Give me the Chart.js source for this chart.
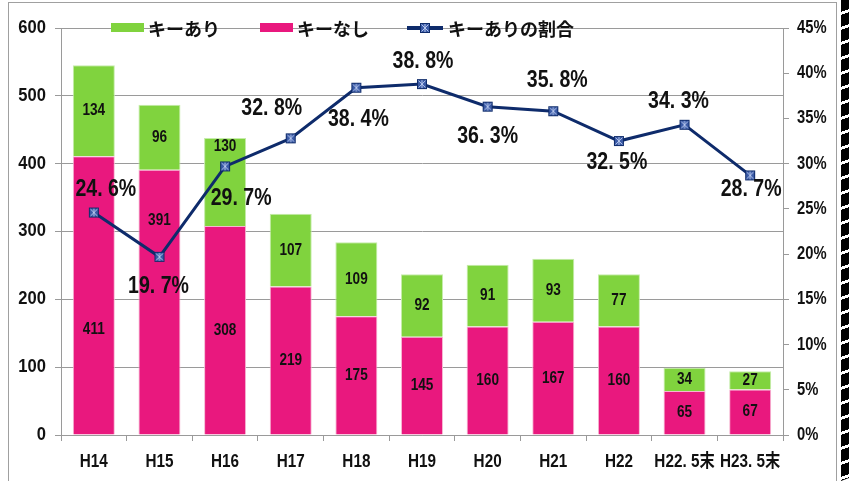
<!DOCTYPE html>
<html>
<head>
<meta charset="utf-8">
<script src="https://cdn.jsdelivr.net/npm/chart.js@4"></script>
<style>
  body { margin: 0; background: #fff; }
  #wrap { position: relative; width: 850px; height: 481px; overflow: hidden; }
  #frame { position: absolute; left: 8px; top: 2px; width: 829px; height: 490px;
           border: 1px solid #a0a0a0; box-sizing: border-box; }
  #dash { position: absolute; left: 841px; top: 0; width: 8px; height: 481px;
          background: repeating-linear-gradient(to bottom, #000 0 12px, #fff 12px 15px);
          transform: skewY(-20deg); transform-origin: left top; }
  #legend { position: absolute; left: 0; top: 0; font: bold 18px 'Noto Sans CJK JP', sans-serif; color: #111; }
  .item { position: absolute; top: 16px; height: 24px; line-height: 24px; white-space: nowrap; }
  .box { position: absolute; top: 7px; width: 33px; height: 9px; }
  .txt { position: absolute; top: 0; }
</style>
</head>
<body>
<div id="wrap">
  <canvas id="chart" width="850" height="481"></canvas>
  <div id="frame"></div>
  <div id="dash"></div>
  <div id="legend"></div>
</div>
<script>
/* data */
const categories = ['H14', 'H15', 'H16', 'H17', 'H18', 'H19', 'H20', 'H21', 'H22', 'H22. 5末', 'H23. 5末'];
const withKey    = [134, 96, 130, 107, 109, 92, 91, 93, 77, 34, 27];
const withoutKey = [411, 391, 308, 219, 175, 145, 160, 167, 160, 65, 67];
const keyRatio   = [24.6, 19.7, 29.7, 32.8, 38.4, 38.8, 36.3, 35.8, 32.5, 34.3, 28.7];

/* label nudges (px) so labels sit where the original put them */
const pinkLabelShift  = [34, -82, 0, 0, 0, 0, 0, 0, 0, 0, 0];
const greenLabelShift = [0, 0, -35, 0, 0, 0, 0, 0, 0, 0, 0];
const ratioLabelShift = [[12, -23], [-1, 30], [16, 32], [-19, -30], [2, 32], [1, -22],
                         [0, 30], [4, -31], [-2, 22], [-6, -23], [1, 14]];

const COLORS = { green: '#80d33e', pink: '#e9187e', navy: '#0e2b6b', grid: '#9a9a9a' };
const NUM_FONT = "'Liberation Sans', 'Noto Sans CJK JP', sans-serif";
const CLEAR = 'rgba(0,0,0,0)';

function makeMarker() {
  const c = document.createElement('canvas');
  c.width = 12; c.height = 12;
  const g = c.getContext('2d');
  g.fillStyle = '#3a5aa6';
  g.fillRect(1, 1, 10, 10);
  g.strokeStyle = COLORS.navy;
  g.lineWidth = 1;
  g.strokeRect(1.5, 1.5, 9, 9);
  g.strokeStyle = '#b8c8ee';
  g.beginPath();
  g.moveTo(2.5, 2.5); g.lineTo(9.5, 9.5);
  g.moveTo(9.5, 2.5); g.lineTo(2.5, 9.5);
  g.moveTo(6, 2); g.lineTo(6, 10);
  g.stroke();
  return c;
}
const marker = makeMarker();

const fmtRatio = v => v.toFixed(1).replace('.', '. ') + '%';

/* the original font is a condensed bold, so squeeze text horizontally */
function narrowText(ctx, text, x, y, size, sx, align) {
  ctx.save();
  ctx.translate(x, y);
  ctx.scale(sx, 1);
  ctx.font = `bold ${size}px ${NUM_FONT}`;
  ctx.textAlign = align;
  ctx.textBaseline = 'middle';
  ctx.fillStyle = '#111';
  ctx.fillText(text, 0, 0);
  ctx.restore();
}

const labelPlugin = {
  id: 'valueLabels',
  afterDatasetsDraw(chart) {
    const ctx = chart.ctx;
    const pinkMeta = chart.getDatasetMeta(0);
    const greenMeta = chart.getDatasetMeta(1);
    pinkMeta.data.forEach((bar, i) => {
      const p = bar.getProps(['x', 'y', 'base'], true);
      narrowText(ctx, String(withoutKey[i]), p.x, (p.y + p.base) / 2 + pinkLabelShift[i], 16, 0.85, 'center');
    });
    greenMeta.data.forEach((bar, i) => {
      const p = bar.getProps(['x', 'y', 'base'], true);
      narrowText(ctx, String(withKey[i]), p.x, (p.y + p.base) / 2 + greenLabelShift[i], 16, 0.85, 'center');
    });
    const lineMeta = chart.getDatasetMeta(2);
    lineMeta.data.forEach((pt, i) => {
      const [dx, dy] = ratioLabelShift[i];
      narrowText(ctx, fmtRatio(keyRatio[i]), pt.x + dx, pt.y + dy, 23, 0.85, 'center');
    });
  },
  afterDraw(chart) {
    const ctx = chart.ctx;
    const { x, y, y1 } = chart.scales;
    x.ticks.forEach((t, i) => {
      narrowText(ctx, categories[i], x.getPixelForTick(i), x.bottom - 19, 18, 0.85, 'center');
    });
    y.ticks.forEach(t => {
      narrowText(ctx, String(t.value), y.right - 15, y.getPixelForValue(t.value), 18, 0.92, 'right');
    });
    y1.ticks.forEach(t => {
      narrowText(ctx, t.value + '%', y1.left + 14, y1.getPixelForValue(t.value), 18, 0.82, 'left');
    });
  }
};

const chart = new Chart(document.getElementById('chart'), {
  type: 'bar',
  data: {
    labels: categories,
    datasets: [
      {
        label: 'キーなし',
        data: withoutKey,
        backgroundColor: COLORS.pink,
        borderColor: '#f6b6d2',
        borderWidth: 1,
        barPercentage: 0.64,
        categoryPercentage: 1,
        order: 1,
      },
      {
        label: 'キーあり',
        data: withKey,
        backgroundColor: COLORS.green,
        borderColor: '#c5ecaa',
        borderWidth: 1,
        barPercentage: 0.64,
        categoryPercentage: 1,
        order: 2,
      },
      {
        type: 'line',
        label: 'キーありの割合',
        data: keyRatio,
        yAxisID: 'y1',
        borderColor: COLORS.navy,
        borderWidth: 3,
        pointStyle: marker,
        tension: 0,
        order: 0,
      },
    ],
  },
  options: {
    responsive: false,
    animation: false,
    layout: { padding: { left: 8, right: 17, top: 28, bottom: 0 } },
    plugins: { legend: { display: false }, tooltip: { enabled: false } },
    scales: {
      x: {
        stacked: true,
        afterFit: s => { s.height = 46; },
        border: { color: COLORS.grid, width: 1 },
        grid: { offset: true, drawOnChartArea: false, tickLength: 6, color: COLORS.grid },
        ticks: { color: CLEAR, font: { size: 12 }, maxRotation: 0, autoSkip: false },
      },
      y: {
        stacked: true,
        min: 0, max: 600,
        afterFit: s => { s.width = 53; },
        border: { color: COLORS.grid, width: 1 },
        grid: { color: COLORS.grid, tickLength: 6 },
        ticks: { stepSize: 100, color: CLEAR },
      },
      y1: {
        position: 'right',
        min: 0, max: 45,
        afterFit: s => { s.width = 50; },
        border: { color: COLORS.grid, width: 1 },
        grid: { drawOnChartArea: false, color: COLORS.grid, tickLength: 6 },
        ticks: { stepSize: 5, color: CLEAR },
      },
    },
  },
  plugins: [labelPlugin],
});

/* HTML legend, laid over the top gridline like the original */
const legendSlots = [
  { ds: 1, left: 111, textLeft: 148, kind: 'box' },
  { ds: 0, left: 260, textLeft: 297, kind: 'box' },
  { ds: 2, left: 407, textLeft: 448, kind: 'line' },
];
const legend = document.getElementById('legend');
legendSlots.forEach(slot => {
  const ds = chart.data.datasets[slot.ds];
  const item = document.createElement('div');
  item.className = 'item';
  item.style.left = '0px';
  if (slot.kind === 'box') {
    const box = document.createElement('div');
    box.className = 'box';
    box.style.left = slot.left + 'px';
    box.style.background = ds.backgroundColor;
    item.appendChild(box);
  } else {
    const ln = document.createElement('div');
    ln.style.cssText = `position:absolute;left:${slot.left}px;top:10px;width:36px;height:4px;background:${COLORS.navy}`;
    item.appendChild(ln);
    const mk = document.createElement('canvas');
    mk.width = 12; mk.height = 12;
    mk.getContext('2d').drawImage(marker, 0, 0);
    mk.style.cssText = `position:absolute;left:${slot.left + 12}px;top:6px`;
    item.appendChild(mk);
  }
  const txt = document.createElement('span');
  txt.className = 'txt';
  txt.style.left = slot.textLeft + 'px';
  txt.textContent = ds.label;
  item.appendChild(txt);
  legend.appendChild(item);
});
</script>
</body>
</html>
